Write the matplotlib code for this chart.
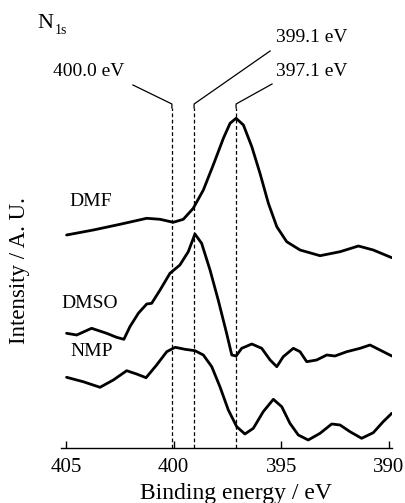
import matplotlib
matplotlib.use("Agg")
import matplotlib.pyplot as plt

plt.rcParams['font.family'] = ['Liberation Serif', 'DejaVu Serif']

# ---- data (binding energy in eV, intensity in arbitrary units) ----
dmf_e = [404.97, 403.73, 402.49, 401.25, 400.63, 400.02, 399.55, 399.09, 398.62, 398.16,
         397.69, 397.38, 397.10, 396.76, 396.37, 395.99, 395.60, 395.21, 394.75, 394.13,
         393.20, 392.27, 391.42, 390.73, 389.87]
dmf_i = [213, 218, 223.7, 229.7, 228.7, 225.7, 228.7, 239.7, 258, 283,
         309.7, 324.7, 329.7, 323, 301.3, 274.7, 244.7, 221.3, 206.3, 198,
         192.3, 196.3, 202, 198, 190.3]

dmso_e = [404.97, 404.50, 403.81, 403.11, 402.65, 402.31, 402.03, 401.64, 401.25, 401.02,
          400.63, 400.17, 399.71, 399.32, 399.01, 398.70, 398.31, 397.93, 397.54, 397.30,
          397.10, 396.84, 396.37, 395.91, 395.52, 395.21, 394.91, 394.44, 394.13, 393.82,
          393.36, 392.89, 392.51, 391.96, 391.34, 390.88, 390.42, 389.87]
dmso_i = [114.7, 113, 119.7, 114.7, 110.7, 108.7, 121.3, 134.7, 144, 144.7,
          158, 174.7, 183, 196.3, 214, 204.7, 178, 148, 114.7, 93,
          92, 99.7, 104, 99.7, 88, 81.3, 91.3, 99.7, 96.3, 86.3,
          88, 93, 92, 96.3, 99.7, 103, 98, 92]

nmp_e = [404.97, 404.20, 403.42, 402.80, 402.18, 401.72, 401.28, 400.79, 400.32, 399.93,
         399.47, 399.01, 398.62, 398.23, 397.85, 397.46, 397.07, 396.69, 396.30, 395.84,
         395.37, 394.98, 394.60, 394.21, 393.75, 393.20, 392.66, 392.27, 391.81, 391.27,
         390.73, 390.27, 389.87]
nmp_i = [70.7, 66.3, 60.7, 68, 77.3, 74, 70.3, 83, 96.3, 100.7,
         98.7, 97.3, 93, 81.3, 61.3, 38, 21.3, 14, 19.7, 36.3,
         48.7, 41.3, 24.7, 13, 8, 14.7, 24, 23, 16.3, 9.7,
         15.3, 26.3, 34.7]

series_labels = ['DMF', 'DMSO', 'NMP']
peak_energies = [400.08, 399.05, 397.10]
peak_labels = ['400.0 eV', '399.1 eV', '397.1 eV']
x_ticks = [405, 400, 395, 390]

# ---- figure ----
W, H = 406, 503
fig = plt.figure(figsize=(W / 100, H / 100), dpi=100)
ax = fig.add_axes([61 / W, 55 / H, 331 / W, 448 / H])
ax.set_xlim(405.23, 389.86)
ax.set_ylim(0, 448)

for e, i in [(dmf_e, dmf_i), (dmso_e, dmso_i), (nmp_e, nmp_i)]:
    ax.plot(e, i, color='black', lw=2.0, solid_capstyle='round', solid_joinstyle='round')

# dashed reference lines with leader lines to labels
leader_start = [(401.89, 363), (395.52, 397), (395.43, 364)]
text_pos = [(403.93, 376), (393.57, 410), (393.57, 377)]
for xd, (lx, ly), (tx, ty), lab in zip(peak_energies, leader_start, text_pos, peak_labels):
    ax.plot([xd, xd], [0, 340], color='black', lw=0.9, ls=(0, (3, 2)))
    ax.plot([lx, xd, xd], [ly, 344, 340], color='black', lw=0.9)
    ax.text(tx, ty, lab, ha='center', va='center', fontsize=14)

# series labels
ax.text(404.85, 247, series_labels[0], ha='left', va='center', fontsize=14)
ax.text(405.20, 145, series_labels[1], ha='left', va='center', fontsize=14)
ax.text(404.81, 96, series_labels[2], ha='left', va='center', fontsize=14)

# N1s label
fig.text(37 / W, 1 - 23 / H, 'N', ha='left', va='center', fontsize=16)
fig.text(55 / W, 1 - 31 / H, '1s', ha='left', va='center', fontsize=10)

for s in ['left', 'top', 'right']:
    ax.spines[s].set_visible(False)
ax.spines['bottom'].set_linewidth(1.0)
ax.set_yticks([])
ax.set_xticks(x_ticks)
ax.set_xticklabels([str(t) for t in x_ticks])
ax.tick_params(axis='x', direction='in', length=5, width=1, pad=7, labelsize=15)

fig.text(236 / W, 1 - 493 / H, 'Binding energy / eV', ha='center', va='center', fontsize=17)
fig.text(20 / W, 1 - 271 / H, 'Intensity / A. U.', ha='center', va='center',
         rotation=90, fontsize=16.5)

fig.savefig('out.png', dpi=100)
